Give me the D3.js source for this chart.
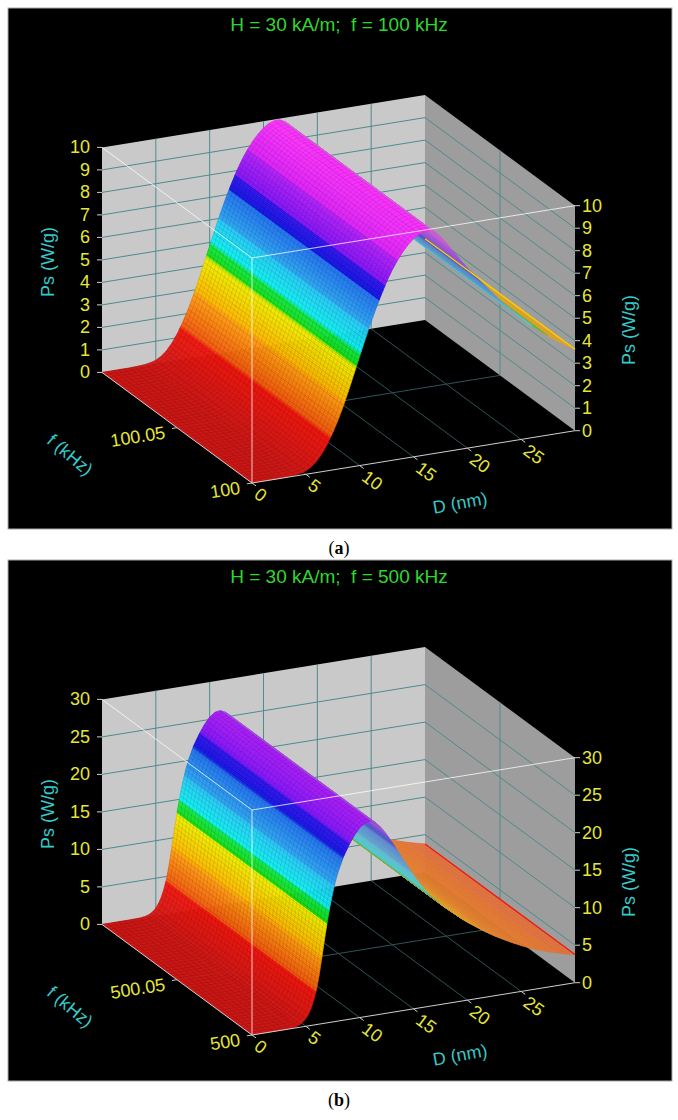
<!DOCTYPE html>
<html><head><meta charset="utf-8">
<script src="https://cdn.jsdelivr.net/npm/d3@7"></script>
<style>body{margin:0;background:#fff}svg{display:block}</style>
</head><body>
<svg id="chart" width="678" height="1120"></svg>
<script>
// ---------------- data ----------------
const titleA = "H = 30 kA/m;  f = 100 kHz";
const titleB = "H = 30 kA/m;  f = 500 kHz";
const dDomain = [0, 30];
const dTicks = [0, 5, 10, 15, 20, 25];
const fDomainA = [100, 100.1];
const fDomainB = [500, 500.1];
const fTicksA = [100, 100.05];
const fTicksB = [500, 500.05];
const fTickLabelsA = ["100", "100.05"];
const fTickLabelsB = ["500", "500.05"];
const psDomainA = [0, 10];
const psDomainB = [0, 30];
const psTicksA = [0, 1, 2, 3, 4, 5, 6, 7, 8, 9, 10];
const psTicksB = [0, 5, 10, 15, 20, 25, 30];
// D (nm) sample points and Ps (W/g), panel (a)
const dA = [0,0.5,1,1.5,2,2.5,3,3.5,4,4.5,5,5.5,6,6.5,7,7.5,8,8.5,9,9.5,10,10.5,11,11.5,12,12.5,13,13.5,14,14.5,15,15.5,16,16.5,17,17.5,18,18.5,19,19.5,20,20.5,21,21.5,22,22.5,23,23.5,24,24.5,25,25.5,26,26.5,27,27.5,28,28.5,29,29.5,30];
const psA = [0,0,0,0,0,0,0.01,0.02,0.04,0.08,0.15,0.29,0.5,0.8,1.18,1.65,2.18,2.78,3.45,4.15,4.85,5.55,6.22,6.85,7.43,7.97,8.44,8.84,9.18,9.47,9.7,9.86,9.94,9.95,9.83,9.6,9.3,8.98,8.65,8.32,8.0,7.72,7.45,7.17,6.9,6.62,6.35,6.1,5.85,5.62,5.4,5.18,4.98,4.78,4.6,4.42,4.25,4.08,3.92,3.77,3.62];
// panel (b)
const dB = [0,0.5,1,1.5,2,2.5,3,3.5,4,4.25,4.5,4.75,5,5.25,5.5,5.75,6,6.25,6.5,6.75,7,7.25,7.5,7.75,8,8.5,9,9.5,10,10.5,11,11.5,12,12.5,13,13.5,14,14.5,15,15.5,16,16.5,17,17.5,18,18.5,19,19.5,20,20.5,21,21.5,22,22.5,23,23.5,24,24.5,25,25.5,26,26.5,27,27.5,28,28.5,29,29.5,30];
const psB = [0,0,0,0,0,0,0.01,0.03,0.12,0.22,0.4,0.65,1.0,1.55,2.3,3.35,4.7,6.6,8.9,11.3,13.5,15.5,17.2,18.7,19.9,21.8,23.2,24.4,25.3,25.85,25.95,25.6,24.85,23.85,22.7,21.5,20.25,19.0,17.8,16.7,15.7,14.85,14.1,13.4,12.75,12.15,11.55,10.95,10.4,9.9,9.4,8.9,8.45,8.0,7.6,7.2,6.82,6.47,6.12,5.8,5.5,5.22,4.96,4.72,4.5,4.3,4.1,3.92,3.75];

// ---------------- style ----------------
const FONT = "Liberation Sans, Arial, sans-serif";
const tickColor = "#e6e638", axisTitleColor = "#36c9c9", titleColor = "#2fd82f";
const cmapW = [0, 0.145, 0.15, 0.29, 0.295, 0.44, 0.445, 0.495, 0.5, 0.6, 0.605, 0.72, 0.725, 0.78, 0.785, 0.88, 0.885, 1];
const cmapC = ["#d41a18","#f41810","#f55a10","#ffa012","#ffb800","#f0f000","#18e018","#12e84a","#10f2f2","#28cbf8","#2ea8f4","#2272f0","#1414e6","#3214ee","#8414f8","#b020f8","#dc22f8","#ff32ff"];
const cmap = d3.scaleLinear().domain(cmapW).range(cmapC).interpolate(d3.interpolateRgb).clamp(true);

const U = [323, -52.3], V = [-150, -110.6], Wv = [0, -225], O0 = [252, 483];

const svg = d3.select("#chart");
const panels = [
  {dy: 0, title: titleA, d: dA, ps: psA, fDomain: fDomainA, psDomain: psDomainA, psTicks: psTicksA, fTicks: fTicksA, fLabels: fTickLabelsA, cap: "a"},
  {dy: 552, title: titleB, d: dB, ps: psB, fDomain: fDomainB, psDomain: psDomainB, psTicks: psTicksB, fTicks: fTicksB, fLabels: fTickLabelsB, cap: "b"}
];
panels.forEach(drawPanel);

// shading of faces turned away from the viewer (descending side)
function shade(c, w, mix) {
  if (mix <= 0.02) return c;
  const cg = d3.interpolateRgb(c, "#b8b8b8")(Math.max(mix, 0.3));
  const cw = d3.interpolateRgb(c, "#e48c4c")(w < 0.15 ? 0.8 : 0.62);
  const warm = w < 0.44 ? 1 : (w < 0.5 ? (0.5 - w) / 0.06 : 0);
  return d3.interpolateRgb(cg, cw)(warm);
}

function drawPanel(p) {
  if (p.d.length !== p.ps.length) console.error("length mismatch", p.d.length, p.ps.length);
  const g = svg.append("g");
  const su = d3.scaleLinear().domain(dDomain).range([0, 1]);
  const sv = d3.scaleLinear().domain(p.fDomain).range([0, 1]);
  const sw = d3.scaleLinear().domain(p.psDomain).range([0, 1]);
  const O = [O0[0], O0[1] + p.dy];
  const P = (d, f, z) => {
    const u = su(d), v = sv(f), w = sw(z);
    return [O[0] + U[0]*u + V[0]*v + Wv[0]*w, O[1] + U[1]*u + V[1]*v + Wv[1]*w];
  };
  const [d0, d1] = dDomain, [f0, f1] = p.fDomain, [z0, z1] = p.psDomain;
  const fmt = q => q[0].toFixed(2) + "," + q[1].toFixed(2);
  const poly = pts => "M" + pts.map(fmt).join("L") + "Z";
  const seg = (a, b) => "M" + fmt(a) + "L" + fmt(b);

  // panel background
  g.append("rect").attr("x", 8).attr("y", 8 + p.dy).attr("width", 664).attr("height", 521)
    .attr("fill", "#000").attr("stroke", "#a8a8a8").attr("stroke-width", 1);
  // title
  g.append("text").attr("x", 339).attr("y", 24 + p.dy).attr("text-anchor", "middle")
    .attr("dominant-baseline", "central").attr("font-family", FONT).attr("font-size", 19)
    .attr("fill", titleColor).style("white-space", "pre").text(p.title);

  // walls
  g.append("path").attr("d", poly([P(d0,f1,z0), P(d1,f1,z0), P(d1,f1,z1), P(d0,f1,z1)])).attr("fill", "#c9c9c9");
  g.append("path").attr("d", poly([P(d1,f1,z0), P(d1,f0,z0), P(d1,f0,z1), P(d1,f1,z1)])).attr("fill", "#9d9d9d");
  let gp = "";
  p.psTicks.forEach(t => { if (t > z0 && t < z1) { gp += seg(P(d0,f1,t), P(d1,f1,t)); gp += seg(P(d1,f1,t), P(d1,f0,t)); } });
  dTicks.forEach(t => { if (t > d0 && t < d1) gp += seg(P(t,f1,z0), P(t,f1,z1)); });
  p.fTicks.forEach(t => { if (t > f0 && t < f1) gp += seg(P(d1,t,z0), P(d1,t,z1)); });
  g.append("path").attr("d", gp).attr("fill", "none").attr("stroke", "#4d8b8d").attr("stroke-width", 1);
  // floor grid
  let fp = "";
  dTicks.forEach(t => { if (t > d0 && t < d1) fp += seg(P(t,f0,z0), P(t,f1,z0)); });
  p.fTicks.forEach(t => { if (t > f0 && t < f1) fp += seg(P(d0,t,z0), P(d1,t,z0)); });
  g.append("path").attr("d", fp).attr("fill", "none").attr("stroke", "#2d5557").attr("stroke-width", 1);

  // surface: strips of constant D, painted from far (large D) to near
  const NF = 45;
  const surf = g.append("g");
  for (let i = p.d.length - 2; i >= 0; i--) {
    const da = p.d[i], db = p.d[i+1], za = p.ps[i], zb = p.ps[i+1];
    const A = P(da, f0, za), B = P(db, f0, zb);
    const len = Math.hypot(B[0]-A[0], B[1]-A[1]);
    const k = Math.max(1, Math.ceil(len / 2));
    const slope = (sw(zb) - sw(za)) / (su(db) - su(da));
    const mix = slope < 0 ? Math.min(0.42, -slope * 0.4) : 0;
    for (let j = 0; j < k; j++) {
      const t0 = j / k, t1 = (j + 1) / k, tm = (j + 0.5) / k;
      const e0 = da + (db-da)*t0, e1 = da + (db-da)*t1;
      const y0 = za + (zb-za)*t0, y1 = za + (zb-za)*t1, ym = za + (zb-za)*tm;
      const c = shade(cmap(sw(ym)), sw(ym), mix);
      surf.append("path").attr("d", poly([P(e0,f0,y0), P(e1,f0,y1), P(e1,f1,y1), P(e0,f1,y0)]))
        .attr("fill", c).attr("stroke", c).attr("stroke-width", 0.6);
    }
    let mp = "";
    const mk = Math.max(1, Math.round(len / 4.5));
    for (let j = 0; j <= mk; j++) {
      const t = j / mk, e = da + (db-da)*t, y = za + (zb-za)*t;
      mp += seg(P(e, f0, y), P(e, f1, y));
    }
    for (let j = 0; j <= NF; j++) {
      const f = f0 + (f1 - f0) * j / NF;
      mp += seg(P(da, f, za), P(db, f, zb));
    }
    surf.append("path").attr("d", mp).attr("fill", "none").attr("stroke", "#000")
      .attr("stroke-opacity", mix > 0 ? 0.07 : 0.2).attr("stroke-width", 0.5);
  }
  // edge line along the far end of the surface (D max), in its unshaded colour
  const last = p.d.length - 1;
  g.append("path").attr("d", seg(P(p.d[last], f0, p.ps[last]), P(p.d[last], f1, p.ps[last])))
    .attr("stroke", cmap(sw(p.ps[last]))).attr("stroke-width", 1.3).attr("fill", "none");

  // bounding box front edges (white) and axes
  let bp = seg(P(d0,f1,z1), P(d0,f0,z1)) + seg(P(d0,f0,z1), P(d1,f0,z1)) + seg(P(d0,f0,z0), P(d0,f0,z1));
  g.append("path").attr("d", bp).attr("fill", "none").attr("stroke", "#ffffff").attr("stroke-opacity", 0.85).attr("stroke-width", 0.9);
  let ap = seg(P(d0,f0,z0), P(d1,f0,z0)) + seg(P(d0,f0,z0), P(d0,f1,z0));
  const nV = [0.805, 0.593], nU = [-0.987, 0.16];
  dTicks.forEach(t => { const q = P(t,f0,z0); ap += seg(q, [q[0]+nV[0]*5, q[1]+nV[1]*5]); });
  p.fTicks.forEach(t => { const q = P(d0,t,z0); ap += seg(q, [q[0]+nU[0]*5, q[1]+nU[1]*5]); });
  p.psTicks.forEach(t => {
    const q = P(d0,f1,t); ap += seg(q, [q[0]-5, q[1]]);
    const r = P(d1,f0,t); ap += seg(r, [r[0]+5, r[1]]);
  });
  g.append("path").attr("d", ap).attr("fill", "none").attr("stroke", "#cfcfcf").attr("stroke-width", 1);

  const txt = (x, y, s, color, anchor, rot, size) => {
    const t = g.append("text").attr("x", x).attr("y", y).attr("text-anchor", anchor)
      .attr("dominant-baseline", "central").attr("font-family", FONT).attr("font-size", size || 18)
      .attr("fill", color).text(s);
    if (rot) t.attr("transform", `rotate(${rot},${x},${y})`);
    return t;
  };
  p.psTicks.forEach(t => {
    const q = P(d0,f1,t); txt(q[0]-12, q[1], String(t), tickColor, "end");
    const r = P(d1,f0,t); txt(r[0]+7, r[1], String(t), tickColor, "start");
  });
  dTicks.forEach(t => { const q = P(t,f0,z0); txt(q[0]+4.5, q[1]+9, String(t), tickColor, "start", 36.4); });
  p.fTicks.forEach((t, i) => { const q = P(d0,t,z0); txt(q[0]-12, q[1]+4.7, p.fLabels[i], tickColor, "end", -9); });
  txt(48, 262 + p.dy, "Ps (W/g)", axisTitleColor, "middle", -90);
  txt(629, 330 + p.dy, "Ps (W/g)", axisTitleColor, "middle", -90);
  txt(460, 503 + p.dy, "D (nm)", axisTitleColor, "middle", -10);
  txt(70, 455 + p.dy, "f (kHz)", axisTitleColor, "middle", 40);

  const cap = svg.append("text").attr("x", 339).attr("y", 548 + p.dy).attr("text-anchor", "middle")
    .attr("dominant-baseline", "central").attr("font-family", "Liberation Serif, Times New Roman, serif")
    .attr("font-size", 18).attr("fill", "#000");
  cap.append("tspan").text("(");
  cap.append("tspan").attr("font-weight", "bold").text(p.cap);
  cap.append("tspan").text(")");
}
</script>
</body></html>
